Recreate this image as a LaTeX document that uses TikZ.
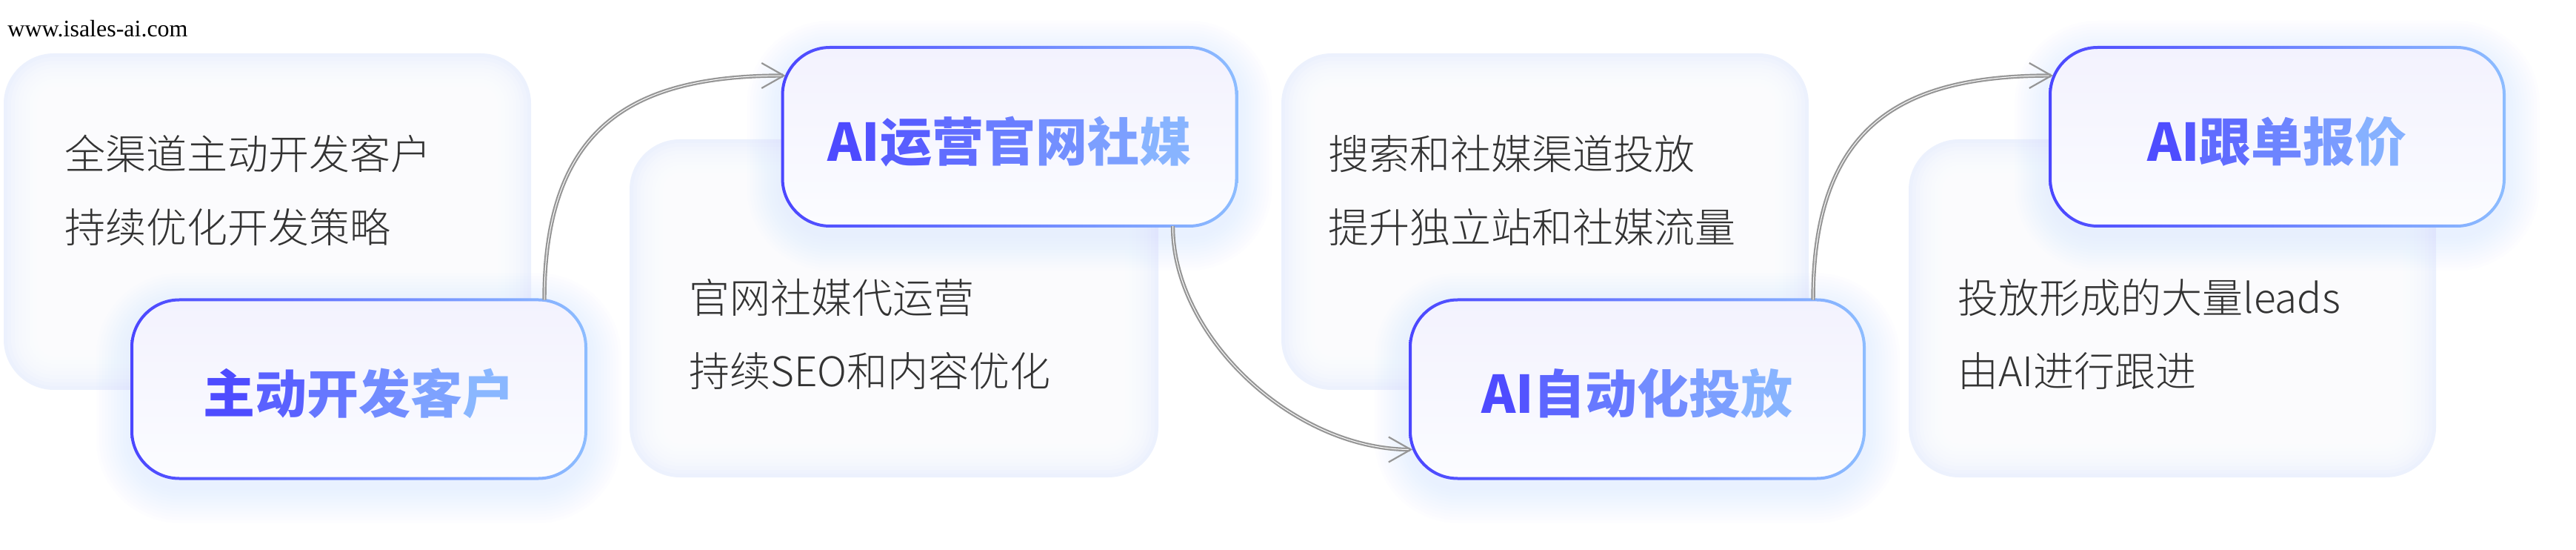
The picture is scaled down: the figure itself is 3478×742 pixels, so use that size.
\documentclass[tikz,border=0pt]{standalone}
\usepackage{fontspec}
\usetikzlibrary{arrows.meta,calc}
\newfontfamily\cjk{Noto Sans CJK SC}
\newfontfamily\cjkl{Noto Sans CJK SC Light}
\newfontfamily\wmfont{Liberation Serif}
\definecolor{gL}{RGB}{75,70,255}
\definecolor{gR}{RGB}{141,189,255}
\definecolor{cardedge}{RGB}{236,241,253}
\definecolor{boxtop}{RGB}{243,242,254}
\definecolor{boxbot}{RGB}{251,252,255}
\definecolor{shadowc}{RGB}{200,216,255}
\definecolor{bodytext}{RGB}{51,51,51}
\definecolor{connc}{RGB}{150,150,150}
\newcommand\gch[2]{\textcolor{gR!#1!gL}{#2}}
\pgfdeclarelayer{bglayer}
\pgfdeclarelayer{cardlayer}
\pgfdeclarelayer{boxlayer}
\pgfsetlayers{bglayer,cardlayer,boxlayer,main}
\tikzset{
  stepbox/.style={minimum width=306.5pt, minimum height=120.5pt, inner sep=0pt, outer sep=0pt,
    font=\cjk\bfseries\fontsize{35pt}{40pt}\selectfont, text height=33pt, text depth=0pt},
  cardtext/.style={anchor=west, inner sep=0pt, align=left, text=bodytext,
    font=\cjkl\fontsize{27.5pt}{49.5pt}\selectfont},
  conn/.style={draw=connc, line width=1.1pt, double=white, double distance=0.5pt,
    -{Straight Barb[length=15pt,width=17pt]}},
}
\newcommand\cardbg[4]{%
  \fill[cardedge, rounded corners=34pt] (#1,#2) rectangle (#3,#4);
  \foreach \i [evaluate=\i as \r using {max(34-2.5*\i,3)}] in {1,...,14}{%
    \fill[white, fill opacity=0.2, rounded corners=\r pt] (#1+\i*5,#2+\i*5) rectangle (#3-\i*5,#4-\i*5);
  }%
}
\newcommand\boxdeco[1]{%
  \foreach \i in {1,...,12}{%
    \fill[shadowc, fill opacity=0.028, rounded corners=32pt+\i*2pt]
      ($(#1.south west)+(-\i*4,\i*4+12)$) rectangle ($(#1.north east)+(\i*4,-\i*4+12)$);
  }%
  \shade[top color=boxtop, bottom color=boxbot, rounded corners=32pt] (#1.south west) rectangle (#1.north east);
  \shade[left color=gL, right color=gR, even odd rule]
    [rounded corners=33pt] ($(#1.south west)+(-2,2)$) rectangle ($(#1.north east)+(2,-2)$)
    [rounded corners=31pt] ($(#1.south west)+(2,-2)$) rectangle ($(#1.north east)+(-2,2)$);
}
\begin{document}
\begin{tikzpicture}[x=0.5pt,y=-0.5pt]
\begin{pgfonlayer}{bglayer}
\fill[white] (0,0) rectangle (3478,742);
\end{pgfonlayer}
\useasboundingbox (0,0) rectangle (3478,742);

% watermark
\node[anchor=base west, inner sep=0pt, font=\wmfont\fontsize{16pt}{18pt}\selectfont] (wm) at (10,50) {www.isales-ai.com};

% step boxes
\node[stepbox] (b1) at (484.5,525) {\gch{5}{主}\gch{23}{动}\gch{41}{开}\gch{59}{发}\gch{77}{客}\gch{95}{户}};
\node[stepbox] (b2) at (1363,184.5) {\gch{3}{A}\gch{10}{I}\gch{20}{运}\gch{33}{营}\gch{47}{官}\gch{61}{网}\gch{75}{社}\gch{92}{媒}};
\node[stepbox] (b3) at (2210.5,525) {\gch{4}{A}\gch{12}{I}\gch{27}{自}\gch{43}{动}\gch{59}{化}\gch{75}{投}\gch{92}{放}};
\node[stepbox] (b4) at (3074.5,184.5) {\gch{5}{A}\gch{15}{I}\gch{32}{跟}\gch{52}{单}\gch{71}{报}\gch{90}{价}};

% card texts
\node[cardtext] (t1) at (87,256.5) {全渠道主动开发客户\\持续优化开发策略};
\node[cardtext] (t2) at (930,451) {官网社媒代运营\\持续SEO和内容优化};
\node[cardtext] (t3) at (1793,256.5) {搜索和社媒渠道投放\\提升独立站和社媒流量};
\node[cardtext] (t4) at (2643,451) {投放形成的大量leads\\由AI进行跟进};

\begin{pgfonlayer}{cardlayer}
  \cardbg{5}{72}{717}{526}
  \cardbg{850}{188}{1564}{644}
  \cardbg{1730}{72}{2442}{526}
  \cardbg{2577}{188}{3289}{644}
\end{pgfonlayer}

\begin{pgfonlayer}{boxlayer}
  \boxdeco{b1}
  \boxdeco{b2}
  \boxdeco{b3}
  \boxdeco{b4}
\end{pgfonlayer}

% connectors
\draw[conn] ($(b1.north east)+(-56,0)$) .. controls +(0,-240) and +(-200,0) .. ($(b2.north west)+(4,38)$);
\draw[conn] ($(b2.south east)+(-86,0)$) .. controls +(0,150) and +(-160,0) .. ($(b3.south west)+(3,-39)$);
\draw[conn] ($(b3.north east)+(-69,0)$) .. controls +(0,-240) and +(-200,0) .. ($(b4.north west)+(4,38)$);
\end{tikzpicture}
\end{document}
